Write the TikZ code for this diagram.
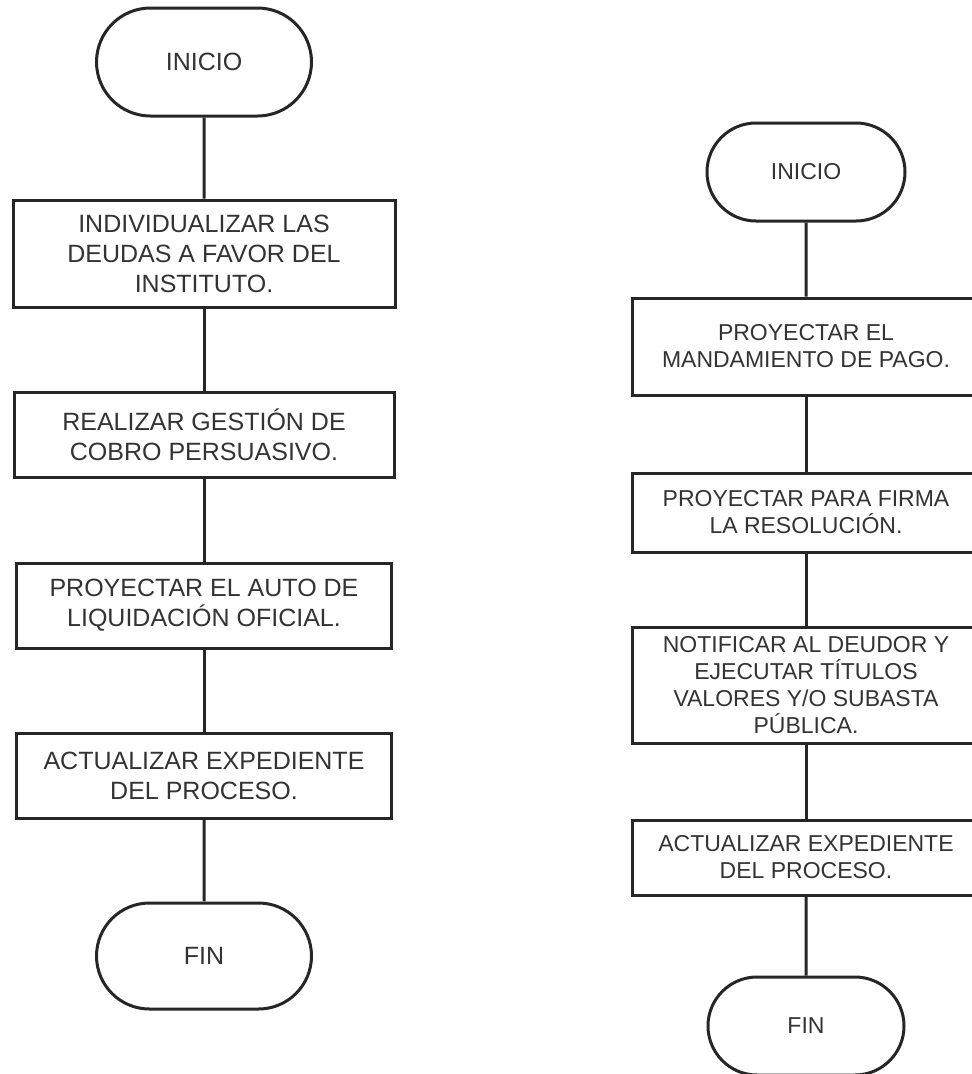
\documentclass[tikz,border=0pt]{standalone}
\usepackage{fontspec}
\setmainfont{Liberation Sans}
\usetikzlibrary{shapes.misc}

\begin{document}
\begin{tikzpicture}[x=1pt,y=1pt,yscale=-1,xscale=1,
  term/.style={draw=black!85,line width=3pt,rounded rectangle,fill=white,text=black!80,inner sep=0pt},
  proc/.style={draw=black!85,line width=3pt,rectangle,fill=white,text=black!80,align=center,inner sep=0pt},
  lnk/.style={draw=black!85,line width=3pt}]
\clip (0,0) rectangle (972,1074);
\fill [white] (0,0) rectangle (972,1074);
% left flow
\begin{scope}[font=\fontsize{25}{30}\selectfont]
\node [term,minimum width=215,minimum height=108] (iniA) at (204,62) {INICIO};
\node [proc,minimum width=382,minimum height=107] (boxA1) at (204,253.5) {INDIVIDUALIZAR LAS\\DEUDAS A FAVOR DEL\\INSTITUTO.};
\node [proc,minimum width=380,minimum height=85] (boxA2) at (204,434.5) {REALIZAR GESTIÓN DE\\COBRO PERSUASIVO.};
\node [proc,minimum width=375,minimum height=85] (boxA3) at (204,605.5) {PROYECTAR EL AUTO DE\\LIQUIDACIÓN OFICIAL.};
\node [proc,minimum width=375,minimum height=85] (boxA4) at (204,775.5) {ACTUALIZAR EXPEDIENTE\\DEL PROCESO.};
\node [term,minimum width=215,minimum height=106] (finA) at (204,956) {FIN};
\end{scope}
\draw [lnk] (iniA) -- (boxA1);
\draw [lnk] (boxA1) -- (boxA2);
\draw [lnk] (boxA2) -- (boxA3);
\draw [lnk] (boxA3) -- (boxA4);
\draw [lnk] (boxA4) -- (finA);
% right flow
\begin{scope}[font=\fontsize{23}{27}\selectfont]
\node [term,minimum width=198,minimum height=98] (iniB) at (806,172) {INICIO};
\node [proc,minimum width=348,minimum height=97] (boxB1) at (806,346.5) {PROYECTAR EL\\MANDAMIENTO DE PAGO.};
\node [proc,minimum width=348,minimum height=79] (boxB2) at (806,512.5) {PROYECTAR PARA FIRMA\\LA RESOLUCIÓN.};
\node [proc,minimum width=348,minimum height=116] (boxB3) at (806,685) {NOTIFICAR AL DEUDOR Y\\EJECUTAR TÍTULOS\\VALORES Y/O SUBASTA\\PÚBLICA.};
\node [proc,minimum width=348,minimum height=75] (boxB4) at (806,857.5) {ACTUALIZAR EXPEDIENTE\\DEL PROCESO.};
\node [term,minimum width=196,minimum height=98] (finB) at (806,1026) {FIN};
\end{scope}
\draw [lnk] (iniB) -- (boxB1);
\draw [lnk] (boxB1) -- (boxB2);
\draw [lnk] (boxB2) -- (boxB3);
\draw [lnk] (boxB3) -- (boxB4);
\draw [lnk] (boxB4) -- (finB);
\end{tikzpicture}
\end{document}
